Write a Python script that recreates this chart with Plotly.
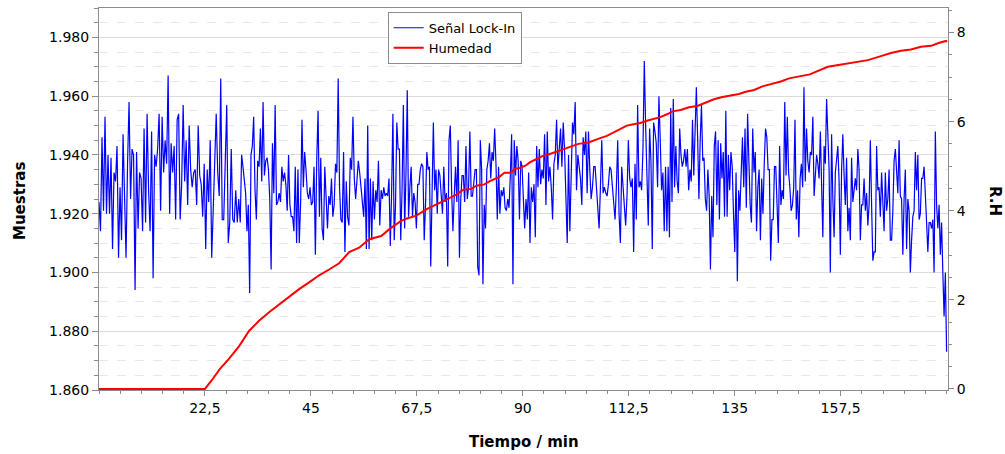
import numpy as np
import plotly.graph_objects as go

# ---- Señal Lock-In (Muestras), read in six consecutive time windows ----
# window boundaries (min)
window_edges = [0.0, 30.0, 60.2, 90.4, 120.6, 150.8, 180.0]

lockin_w1 = [1.924, 1.914, 1.946, 1.921, 1.953, 1.920, 1.940, 1.920, 1.939, 1.908, 1.934, 1.931, 1.943, 1.905, 1.929, 1.911,
             1.947, 1.927, 1.905, 1.937, 1.958, 1.925, 1.942, 1.940, 1.894, 1.941, 1.915, 1.934, 1.932, 1.914, 1.949, 1.917,
             1.954, 1.928, 1.914, 1.948, 1.898, 1.940, 1.936, 1.942, 1.954, 1.921, 1.953, 1.934, 1.945, 1.937, 1.967, 1.920,
             1.944, 1.934, 1.943, 1.918, 1.952, 1.954, 1.918, 1.930, 1.957, 1.931, 1.945, 1.923, 1.950, 1.935, 1.929, 1.934,
             1.935, 1.923, 1.950, 1.933, 1.930, 1.919, 1.937, 1.908, 1.935, 1.924, 1.945, 1.905, 1.923, 1.943, 1.954, 1.934,
             1.926, 1.966, 1.918, 1.918, 1.944, 1.957, 1.910, 1.917, 1.942, 1.918, 1.917, 1.928, 1.917, 1.925]
lockin_w2 = [1.917, 1.940, 1.936, 1.932, 1.927, 1.914, 1.923, 1.893, 1.940, 1.943, 1.953, 1.928, 1.918, 1.938, 1.936, 1.949,
             1.931, 1.958, 1.933, 1.938, 1.939, 1.935, 1.925, 1.901, 1.944, 1.927, 1.957, 1.923, 1.924, 1.927, 1.924, 1.936,
             1.931, 1.934, 1.930, 1.921, 1.940, 1.923, 1.919, 1.919, 1.914, 1.936, 1.910, 1.935, 1.910, 1.924, 1.952, 1.929,
             1.941, 1.935, 1.927, 1.925, 1.929, 1.923, 1.924, 1.936, 1.906, 1.938, 1.955, 1.919, 1.939, 1.915, 1.911, 1.936,
             1.927, 1.915, 1.926, 1.923, 1.932, 1.919, 1.923, 1.937, 1.934, 1.966, 1.929, 1.918, 1.917, 1.941, 1.907, 1.931,
             1.919, 1.916, 1.939, 1.935, 1.953, 1.932, 1.925, 1.931, 1.938, 1.934, 1.929, 1.924, 1.919, 1.932, 1.908, 1.950,
             1.908, 1.932, 1.911, 1.931, 1.918, 1.928, 1.924, 1.938, 1.916, 1.928]
lockin_w3 = [1.925, 1.929, 1.926, 1.927, 1.926, 1.932, 1.909, 1.927, 1.954, 1.911, 1.923, 1.951, 1.942, 1.942, 1.911, 1.928,
             1.957, 1.915, 1.933, 1.962, 1.919, 1.929, 1.936, 1.919, 1.927, 1.924, 1.915, 1.930, 1.930, 1.935, 1.937, 1.936,
             1.911, 1.923, 1.941, 1.935, 1.936, 1.902, 1.929, 1.951, 1.928, 1.935, 1.920, 1.935, 1.933, 1.925, 1.920, 1.936,
             1.924, 1.927, 1.902, 1.945, 1.950, 1.928, 1.914, 1.926, 1.936, 1.924, 1.945, 1.905, 1.925, 1.933, 1.933, 1.924,
             1.943, 1.925, 1.929, 1.948, 1.926, 1.926, 1.931, 1.935, 1.935, 1.902, 1.899, 1.945, 1.935, 1.896, 1.923, 1.915,
             1.935, 1.938, 1.944, 1.932, 1.941, 1.938, 1.949, 1.937, 1.918, 1.936, 1.920, 1.928, 1.926, 1.929, 1.922, 1.921,
             1.925, 1.922, 1.933, 1.947, 1.896, 1.945, 1.933, 1.943, 1.938, 1.918, 1.938, 1.936, 1.925]
lockin_w4 = [1.915, 1.925, 1.918, 1.934, 1.910, 1.929, 1.924, 1.930, 1.912, 1.943, 1.929, 1.942, 1.930, 1.935, 1.932, 1.947,
             1.923, 1.948, 1.931, 1.936, 1.929, 1.918, 1.937, 1.940, 1.952, 1.935, 1.942, 1.949, 1.936, 1.951, 1.942, 1.928,
             1.910, 1.940, 1.914, 1.933, 1.951, 1.947, 1.958, 1.928, 1.940, 1.936, 1.932, 1.923, 1.946, 1.940, 1.948, 1.927,
             1.948, 1.935, 1.925, 1.929, 1.936, 1.936, 1.928, 1.924, 1.915, 1.929, 1.945, 1.927, 1.929, 1.927, 1.926, 1.930,
             1.936, 1.935, 1.929, 1.925, 1.918, 1.929, 1.945, 1.920, 1.910, 1.936, 1.930, 1.923, 1.916, 1.926, 1.945, 1.932,
             1.929, 1.932, 1.907, 1.937, 1.918, 1.957, 1.929, 1.931, 1.928, 1.942, 1.972, 1.950, 1.932, 1.916, 1.949, 1.938,
             1.908, 1.951, 1.948, 1.944, 1.929, 1.960, 1.945, 1.928, 1.934, 1.914, 1.936]
lockin_w5 = [1.914, 1.936, 1.912, 1.956, 1.924, 1.959, 1.929, 1.943, 1.931, 1.927, 1.949, 1.940, 1.936, 1.938, 1.942, 1.936,
             1.942, 1.928, 1.935, 1.931, 1.952, 1.933, 1.952, 1.963, 1.946, 1.925, 1.945, 1.957, 1.938, 1.939, 1.925, 1.921,
             1.935, 1.926, 1.901, 1.926, 1.912, 1.943, 1.948, 1.923, 1.945, 1.918, 1.944, 1.932, 1.941, 1.919, 1.955, 1.919,
             1.940, 1.928, 1.941, 1.936, 1.920, 1.907, 1.934, 1.897, 1.928, 1.921, 1.934, 1.946, 1.929, 1.949, 1.922, 1.954,
             1.938, 1.923, 1.917, 1.949, 1.934, 1.941, 1.914, 1.929, 1.935, 1.911, 1.932, 1.920, 1.937, 1.949, 1.946, 1.935,
             1.935, 1.904, 1.918, 1.918, 1.936, 1.936, 1.923, 1.910, 1.943, 1.923, 1.928, 1.925, 1.958, 1.933, 1.953, 1.934,
             1.929, 1.921, 1.923, 1.929, 1.952, 1.918, 1.928, 1.912, 1.932, 1.937, 1.929, 1.963, 1.931, 1.949, 1.938]
lockin_w6 = [1.934, 1.941, 1.940, 1.953, 1.926, 1.933, 1.940, 1.937, 1.932, 1.948, 1.934, 1.912, 1.943, 1.937, 1.959, 1.944,
             1.935, 1.900, 1.947, 1.925, 1.912, 1.934, 1.940, 1.943, 1.931, 1.906, 1.935, 1.947, 1.933, 1.923, 1.939, 1.914,
             1.922, 1.911, 1.939, 1.924, 1.928, 1.932, 1.928, 1.942, 1.935, 1.911, 1.923, 1.923, 1.932, 1.921, 1.927, 1.916,
             1.923, 1.945, 1.923, 1.904, 1.907, 1.907, 1.943, 1.928, 1.929, 1.919, 1.934, 1.921, 1.914, 1.934, 1.921, 1.925,
             1.935, 1.911, 1.911, 1.921, 1.938, 1.942, 1.935, 1.927, 1.945, 1.926, 1.925, 1.906, 1.925, 1.935, 1.908, 1.925,
             1.921, 1.900, 1.911, 1.919, 1.921, 1.941, 1.928, 1.940, 1.918, 1.920, 1.932, 1.932, 1.936, 1.923, 1.917, 1.907,
             1.917, 1.917, 1.915, 1.918, 1.900, 1.948, 1.923, 1.915, 1.923, 1.906, 1.917, 1.900, 1.885, 1.900, 1.873]

lockin_windows = [lockin_w1, lockin_w2, lockin_w3, lockin_w4, lockin_w5, lockin_w6]

# ---- Humedad (R.H) ----
humedad_t = [0.0, 22.50, 23.99, 25.69, 27.54, 29.73, 31.86, 33.99, 36.12, 38.24, 40.37, 42.50, 44.62, 46.75, 48.87,
             51.00, 53.13, 55.25, 57.38, 59.93, 62.06, 64.19, 65.25, 67.38, 69.51, 71.63, 73.76, 75.89, 77.38, 79.08,
             80.14, 81.84, 82.90, 85.03, 86.09, 87.58, 88.22, 89.29, 90.56, 91.56, 92.96, 94.02, 95.45, 96.87, 98.64,
             100.40, 101.83, 103.95, 105.02, 106.44, 107.85, 109.27, 110.70, 112.10, 113.52, 114.95, 116.35, 117.78,
             119.20, 120.76, 121.76, 123.52, 125.29, 127.07, 128.84, 130.60, 132.39, 134.15, 135.92, 137.34, 139.11,
             140.89, 143.02, 144.79, 146.55, 148.34, 150.95, 154.78, 159.68, 163.29, 166.06, 168.18, 170.31, 172.44,
             174.56, 176.69, 178.46, 179.88, 180.1]
humedad_rh = [0.0, 0.0, 0.20, 0.45, 0.67, 0.955, 1.30, 1.53, 1.72, 1.90, 2.07, 2.24, 2.39, 2.55, 2.68,
              2.82, 3.07, 3.17, 3.36, 3.43, 3.62, 3.77, 3.82, 3.89, 4.03, 4.14, 4.25, 4.36, 4.47, 4.49,
              4.56, 4.59, 4.66, 4.76, 4.85, 4.85, 4.94, 4.96, 5.01, 5.09, 5.16, 5.22, 5.26, 5.31, 5.38,
              5.44, 5.50, 5.53, 5.58, 5.63, 5.68, 5.76, 5.85, 5.91, 5.94, 5.97, 6.02, 6.06,
              6.10, 6.17, 6.23, 6.26, 6.32, 6.35, 6.43, 6.50, 6.55, 6.58, 6.62, 6.67, 6.71,
              6.79, 6.85, 6.90, 6.97, 7.01, 7.06, 7.23, 7.32, 7.38, 7.47, 7.54, 7.59, 7.62,
              7.68, 7.70, 7.77, 7.81, 7.79]

x_tick_vals = [22.5, 45, 67.5, 90, 112.5, 135, 157.5]
x_tick_text = ["22,5", "45", "67,5", "90", "112,5", "135", "157,5"]

# sample times for the lock-in signal (regular sampling inside each window)
lockin_t, lockin_v = [], []
for k, w in enumerate(lockin_windows):
    last = k == len(lockin_windows) - 1
    lockin_t.extend(np.linspace(window_edges[k], window_edges[k + 1], len(w), endpoint=last).tolist())
    lockin_v.extend(w)

AX = "#8c8c8c"
FONT = "DejaVu Sans"

fig = go.Figure()
fig.add_trace(go.Scatter(x=lockin_t, y=lockin_v, mode="lines", name="Señal Lock-In",
                         line=dict(color="#0000ff", width=1.2)))
fig.add_trace(go.Scatter(x=humedad_t, y=humedad_rh, mode="lines", name="Humedad", yaxis="y2",
                         line=dict(color="#ff0000", width=2)))

fig.update_layout(
    width=1005, height=454,
    margin=dict(l=99, r=57, t=8, b=64),
    plot_bgcolor="white", paper_bgcolor="white",
    font=dict(family=FONT, size=14, color="#000000"),
    showlegend=True,
    legend=dict(x=0.34, y=0.99, xanchor="left", yanchor="top",
                bgcolor="white", bordercolor=AX, borderwidth=1,
                font=dict(size=13, family=FONT), tracegroupgap=0),
    xaxis=dict(range=[0, 180.3], tickvals=x_tick_vals, ticktext=x_tick_text,
               ticks="outside", ticklen=5, tickcolor=AX, showline=True, linecolor=AX, linewidth=1,
               mirror=True, showgrid=False, zeroline=False, layer="below traces",
               minor=dict(dtick=4.5, tick0=0, ticks="outside", ticklen=3, tickcolor=AX, showgrid=False)),
    yaxis=dict(range=[1.86, 1.99], tick0=1.86, dtick=0.02, tickformat=".3f",
               ticks="outside", ticklen=6, tickcolor=AX, showline=True, linecolor=AX, linewidth=1,
               showgrid=True, gridcolor="#dcdcdc", gridwidth=1, zeroline=False,
               minor=dict(dtick=0.005, tick0=1.86, ticks="outside", ticklen=4, tickcolor=AX,
                          showgrid=True, gridcolor="#e8e8e8", griddash="dash", gridwidth=1)),
    yaxis2=dict(range=[-0.025, 8.55], tick0=0, dtick=2, overlaying="y", side="right",
                ticks="outside", ticklen=5, tickcolor=AX, showline=True, linecolor=AX, linewidth=1,
                showgrid=False, zeroline=False,
                minor=dict(dtick=0.5, tick0=0, ticks="outside", ticklen=3, tickcolor=AX, showgrid=False)),
    annotations=[
        dict(text="<b>Tiempo / min</b>", x=0.5, y=0, xref="paper", yref="paper",
             xanchor="center", yanchor="top", yshift=-41, showarrow=False,
             font=dict(size=15, family=FONT, color="#000000")),
        dict(text="<b>Muestras</b>", x=0, y=0.5, xref="paper", yref="paper", textangle=-90,
             xanchor="center", yanchor="middle", xshift=-79, yshift=-2, showarrow=False,
             font=dict(size=15, family=FONT, color="#000000")),
        dict(text="<b>R.H</b>", x=1, y=0.5, xref="paper", yref="paper", textangle=90,
             xanchor="center", yanchor="middle", xshift=47, yshift=-2, showarrow=False,
             font=dict(size=15, family=FONT, color="#000000")),
    ],
)

fig.write_html("out.html")
